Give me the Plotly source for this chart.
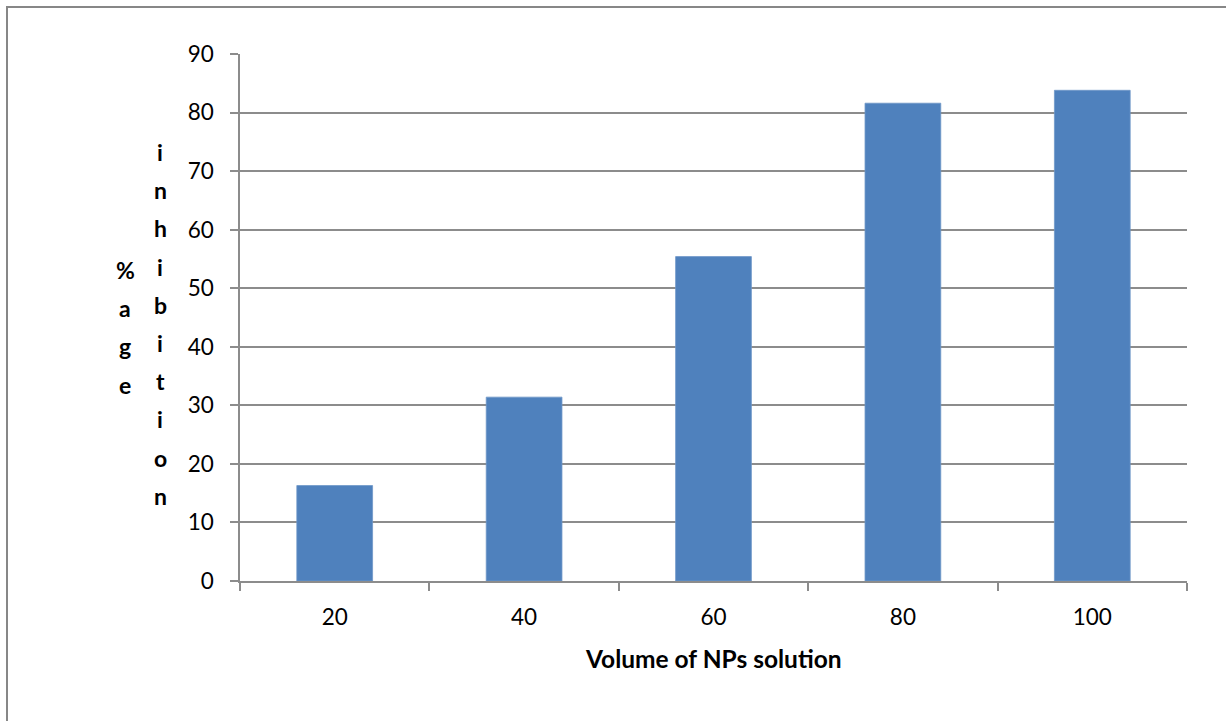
import plotly.graph_objects as go

# Inhibition (%) by volume of NP solution
volumes = ["20", "40", "60", "80", "100"]
inhibition = [16.3, 31.4, 55.4, 81.6, 83.8]
y_ticks = [0, 10, 20, 30, 40, 50, 60, 70, 80, 90]

W, H = 1226, 721
ML, MR, MT, MB = 240, 39, 54, 140
PW, PH = W - ML - MR, H - MT - MB

FONT = "Lato, Calibri, Carlito, sans-serif"
GRID = "#8c8c8c"
TICK_SIZE = 22.5


def px_x(px):
    return (px - ML) / PW


def px_y(py):
    return (H - MB - py) / PH


fig = go.Figure(
    go.Bar(
        x=volumes,
        y=inhibition,
        marker=dict(color="#4F81BD", line=dict(color="#6f97c8", width=0.8)),
        hoverinfo="x+y",
    )
)

fig.update_layout(
    width=W,
    height=H,
    margin=dict(l=ML, r=MR, t=MT, b=MB),
    paper_bgcolor="white",
    plot_bgcolor="white",
    bargap=0.6,
    showlegend=False,
    font=dict(family=FONT, size=TICK_SIZE, color="#000000"),
)

fig.update_xaxes(
    type="category",
    tickson="boundaries",
    ticks="outside",
    ticklen=8,
    tickwidth=1.5,
    tickcolor=GRID,
    showline=True,
    linecolor=GRID,
    linewidth=1.5,
    showgrid=False,
    ticklabelstandoff=15,
    tickfont=dict(family=FONT, size=TICK_SIZE),
)

fig.update_yaxes(
    range=[0, 90],
    tickvals=y_ticks,
    ticks="outside",
    ticklen=8,
    tickwidth=1.5,
    tickcolor=GRID,
    showline=True,
    linecolor=GRID,
    linewidth=1.5,
    showgrid=True,
    gridcolor=GRID,
    gridwidth=1.5,
    zeroline=False,
    ticklabelstandoff=12,
    tickfont=dict(family=FONT, size=TICK_SIZE),
)

# x-axis title
fig.add_annotation(
    text="<b>Volume of NPs solution</b>",
    xref="paper", yref="paper",
    x=px_x(713), y=px_y(658),
    xanchor="center", yanchor="middle",
    showarrow=False,
    font=dict(family=FONT, size=24.5),
)

# y-axis title, written as two stacked columns of letters
columns = [("%age", 125, 270), ("inhibition", 160, 152)]
step = 38.2
for word, cx, top in columns:
    for i, ch in enumerate(word):
        fig.add_annotation(
            text=f"<b>{ch}</b>",
            xref="paper", yref="paper",
            x=px_x(cx), y=px_y(top + i * step),
            xanchor="center", yanchor="middle",
            showarrow=False,
            font=dict(family=FONT, size=23),
        )

# chart frame
fig.add_shape(
    type="rect",
    xref="paper", yref="paper",
    x0=px_x(7), x1=px_x(1240),
    y0=px_y(740), y1=px_y(7),
    line=dict(color="#878787", width=2),
    fillcolor="rgba(0,0,0,0)",
    layer="below",
)

fig.write_html("out.html")
